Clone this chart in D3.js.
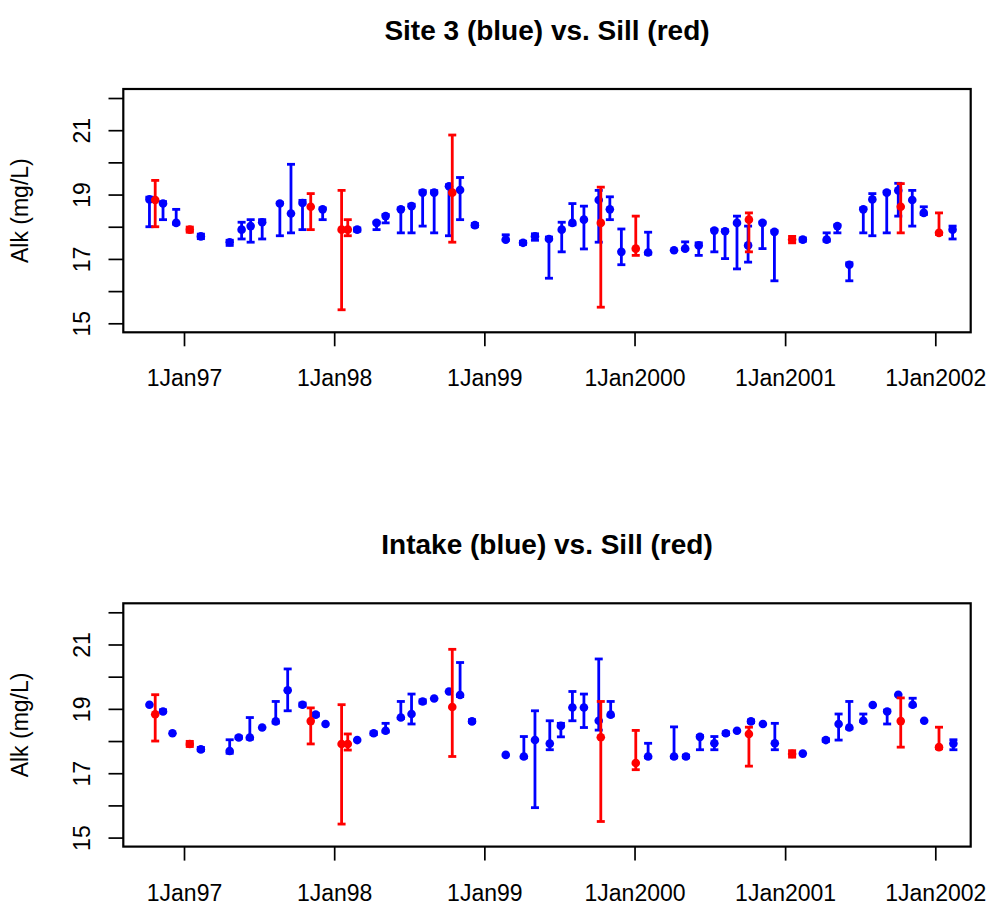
<!DOCTYPE html>
<html>
<head>
<meta charset="utf-8">
<script src="https://cdn.jsdelivr.net/npm/d3@7"></script>
<style>
  body { margin: 0; background: #fff; }
  text { font-family: "Liberation Sans", Arial, Helvetica, sans-serif; }
</style>
</head>
<body>
<script>
// Sill (red) - same in both panels
var sillDates = ["1996-10-23","1997-01-15","1997-11-05","1998-01-19","1998-02-03","1998-10-15",
                 "1999-10-11","2000-01-04","2000-10-05","2001-01-18","2001-10-09","2002-01-10"];
var sillMean = [18.83, 17.91, 18.62, 17.91, 17.91, 19.06, 18.12, 17.32, 18.22, 17.60, 18.62, 17.81];
var sillLo   = [18.00, 17.83, 17.91, 15.42, 17.72, 17.52, 15.50, 17.11, 17.22, 17.50, 17.81, 17.76];
var sillHi   = [19.44, 17.99, 19.03, 19.13, 18.22, 20.85, 19.23, 18.33, 18.43, 17.70, 19.34, 18.43];

// Site 3 (blue, top panel)
var site3Dates = ["1996-10-09","1996-11-11","1996-12-13","1997-02-11","1997-04-22","1997-05-21",
                  "1997-06-12","1997-07-10","1997-08-22","1997-09-18","1997-10-16","1997-12-04",
                  "1998-02-26","1998-04-14","1998-05-06","1998-06-12","1998-07-08","1998-08-04",
                  "1998-09-01","1998-10-07","1998-11-03","1998-12-09","1999-02-22","1999-04-05",
                  "1999-05-04","1999-06-07","1999-07-08","1999-08-03","1999-08-31","1999-10-06",
                  "1999-11-02","1999-11-30","2000-02-03","2000-04-06","2000-05-03","2000-06-05",
                  "2000-07-13","2000-08-08","2000-09-06","2000-10-03","2000-11-07","2000-12-06",
                  "2001-02-13","2001-04-12","2001-05-08","2001-06-06","2001-07-10","2001-08-01",
                  "2001-09-05","2001-10-03","2001-11-06","2001-12-04","2002-02-12"];
var site3Mean = [18.85, 18.72, 18.12, 17.70, 17.52, 17.91, 18.02, 18.14, 18.72, 18.41, 18.74, 18.54,
                 17.91, 18.12, 18.33, 18.54, 18.64, 19.06, 19.06, 19.26, 19.14, 18.05, 17.60, 17.50,
                 17.70, 17.62, 17.91, 18.12, 18.22, 18.83, 18.54, 17.22, 17.20, 17.27, 17.32, 17.42,
                 17.88, 17.86, 18.12, 17.42, 18.12, 17.84, 17.60, 17.60, 18.02, 16.82, 18.54, 18.85,
                 19.06, 19.13, 18.83, 18.43, 17.91];
var site3Lo   = [18.00, 18.22, 18.08, 17.63, 17.42, 17.62, 17.52, 17.62, 17.72, 17.81, 17.91, 18.22,
                 17.86, 17.91, 18.12, 17.81, 17.81, 18.02, 17.81, 17.72, 18.22, 18.00, 17.58, 17.45,
                 17.58, 16.40, 17.22, 18.06, 17.31, 17.52, 18.22, 16.82, 17.15, 17.27, 17.30, 17.11,
                 17.22, 17.01, 16.69, 16.90, 17.32, 16.32, 17.55, 17.55, 17.81, 16.32, 17.81, 17.72,
                 17.81, 18.33, 18.02, 18.38, 17.62];
var site3Hi   = [18.92, 18.78, 18.54, 17.77, 17.58, 18.14, 18.22, 18.22, 18.75, 19.94, 18.82, 18.58,
                 17.96, 18.15, 18.38, 18.58, 18.70, 19.12, 19.12, 19.30, 19.53, 18.10, 17.75, 17.55,
                 17.78, 17.68, 18.14, 18.72, 18.64, 19.13, 18.93, 17.93, 17.83, 17.27, 17.53, 17.50,
                 17.92, 17.90, 18.33, 18.02, 18.15, 17.88, 17.65, 17.81, 18.06, 16.88, 18.58, 19.03,
                 19.10, 19.35, 19.13, 18.62, 18.02];

// Intake (blue, bottom panel)
var intakeDates = ["1996-10-09","1996-11-11","1996-12-04","1997-02-11","1997-04-22","1997-05-14",
                   "1997-06-10","1997-07-10","1997-08-12","1997-09-10","1997-10-16","1997-11-17",
                   "1997-12-11","1998-02-26","1998-04-07","1998-05-06","1998-06-12","1998-07-08",
                   "1998-08-04","1998-09-01","1998-10-07","1998-11-03","1998-12-02","1999-02-22",
                   "1999-04-07","1999-05-04","1999-06-09","1999-07-06","1999-08-03","1999-08-31",
                   "1999-10-06","1999-11-04","2000-02-03","2000-04-06","2000-05-05","2000-06-08",
                   "2000-07-13","2000-08-10","2000-09-06","2000-10-10","2000-11-08","2000-12-07",
                   "2001-02-13","2001-04-10","2001-05-11","2001-06-06","2001-07-10","2001-08-02",
                   "2001-09-06","2001-10-03","2001-11-07","2001-12-05","2002-02-14"];
var intakeMean = [19.13, 18.92, 18.24, 17.74, 17.69, 18.11, 18.11, 18.42, 18.61, 19.58, 19.13, 18.82,
                  18.53, 18.03, 18.24, 18.32, 18.73, 18.84, 19.23, 19.32, 19.54, 19.43, 18.61, 17.57,
                  17.52, 18.03, 17.92, 18.47, 19.04, 19.04, 18.63, 18.82, 17.52, 17.52, 17.52, 18.13,
                  17.93, 18.24, 18.32, 18.61, 18.53, 17.93, 17.61, 18.03, 18.53, 18.42, 18.63, 19.12,
                  18.92, 19.44, 19.13, 18.63, 17.92];
var intakeLo   = [19.13, 18.90, 18.24, 17.70, 17.62, 18.08, 18.06, 18.42, 18.56, 18.94, 19.08, 18.78,
                  18.53, 18.03, 18.20, 18.28, 18.70, 18.53, 19.18, 19.32, 19.54, 19.38, 18.58, 17.57,
                  17.48, 15.93, 17.73, 18.13, 18.63, 18.42, 18.34, 18.78, 17.48, 17.48, 17.48, 17.73,
                  17.73, 18.20, 18.32, 18.57, 18.53, 17.73, 17.61, 17.99, 18.03, 18.38, 18.60, 19.12,
                  18.53, 19.44, 19.09, 18.63, 17.73];
var intakeHi   = [19.13, 18.97, 18.24, 17.80, 18.04, 18.15, 18.73, 18.42, 19.23, 20.24, 19.18, 18.86,
                  18.53, 18.03, 18.28, 18.55, 19.23, 19.46, 19.28, 19.32, 19.54, 20.44, 18.66, 17.57,
                  18.14, 18.94, 18.63, 18.55, 19.54, 19.46, 20.55, 19.23, 17.93, 18.44, 17.56, 18.17,
                  18.14, 18.28, 18.32, 18.65, 18.53, 18.55, 17.61, 18.07, 18.84, 19.23, 18.84, 19.12,
                  18.96, 19.44, 19.33, 18.63, 18.04];

var xTickDates = ["1997-01-01","1998-01-01","1999-01-01","2000-01-01","2001-01-01","2002-01-01"];
var xTickLabels = ["1Jan97","1Jan98","1Jan99","1Jan2000","1Jan2001","1Jan2002"];
var yTicks = [15, 16, 17, 18, 19, 20, 21, 22];
var yTickLabels = ["15", "", "17", "", "19", "", "21", ""];

var parse = d3.utcParse("%Y-%m-%d");

function series(dates, mean, lo, hi) {
  return dates.map(function(d, i) {
    return {date: parse(d), y: mean[i], lo: lo[i], hi: hi[i]};
  });
}

var sill = series(sillDates, sillMean, sillLo, sillHi);
var panels = [
  {title: "Site 3 (blue) vs. Sill (red)", blue: series(site3Dates, site3Mean, site3Lo, site3Hi), top: 89},
  {title: "Intake (blue) vs. Sill (red)", blue: series(intakeDates, intakeMean, intakeLo, intakeHi), top: 603.3}
];

var W = 993, H = 905;
var left = 123.3, right = 970.7, ph = 243.3;

var svg = d3.select("body")
  .append("svg")
  .attr("width", W)
  .attr("height", H);

var x = d3.scaleUtc()
  .domain([d3.utcHour.offset(parse("1997-01-01"), -3541), d3.utcHour.offset(parse("2002-01-01"), 2065)])
  .range([left, right]);

function drawCI(g, data, y, color) {
  var bars = data.filter(function(d) { return d.hi - d.lo > 0.001; });
  g.selectAll(null)
    .data(bars)
    .enter()
    .append("line")
      .attr("x1", function(d) { return x(d.date); })
      .attr("x2", function(d) { return x(d.date); })
      .attr("y1", function(d) { return y(d.lo); })
      .attr("y2", function(d) { return y(d.hi); })
      .style("stroke", color)
      .style("stroke-width", 2.8);
  ["lo", "hi"].forEach(function(k) {
    g.selectAll(null)
      .data(bars)
      .enter()
      .append("line")
        .attr("x1", function(d) { return x(d.date) - 4; })
        .attr("x2", function(d) { return x(d.date) + 4; })
        .attr("y1", function(d) { return y(d[k]); })
        .attr("y2", function(d) { return y(d[k]); })
        .style("stroke", color)
        .style("stroke-width", 2.8);
  });
  g.selectAll(null)
    .data(data)
    .enter()
    .append("circle")
      .attr("cx", function(d) { return x(d.date); })
      .attr("cy", function(d) { return y(d.y); })
      .attr("r", 4.3)
      .style("fill", color);
}

panels.forEach(function(p) {
  var top = p.top, bottom = top + ph;
  var y = d3.scaleLinear().domain([14.72, 22.28]).range([bottom, top]);

  svg.append("text")
    .attr("x", (left + right) / 2)
    .attr("y", top - 49)
    .attr("text-anchor", "middle")
    .style("font-size", "28px")
    .style("font-weight", "bold")
    .text(p.title);

  var xAxis = d3.axisBottom(x)
    .tickValues(xTickDates.map(parse))
    .tickFormat(function(d, i) { return xTickLabels[i]; })
    .tickSize(14)
    .tickSizeOuter(0);

  var gx = svg.append("g")
    .attr("transform", "translate(0," + bottom + ")")
    .call(xAxis);
  gx.select(".domain").remove();
  gx.selectAll("line").style("stroke", "#000").style("stroke-width", 1.7);
  gx.selectAll("text")
    .attr("y", 54.2)
    .attr("dy", null)
    .style("font-size", "23px")
    .style("fill", "#000");

  var yAxis = d3.axisLeft(y)
    .tickValues(yTicks)
    .tickFormat(function(d, i) { return yTickLabels[i]; })
    .tickSize(14.8)
    .tickSizeOuter(0);

  var gy = svg.append("g")
    .attr("transform", "translate(" + left + ",0)")
    .call(yAxis);
  gy.select(".domain").remove();
  gy.selectAll("line").style("stroke", "#000").style("stroke-width", 1.7);
  gy.selectAll("text")
    .attr("x", null)
    .attr("dy", null)
    .attr("transform", "translate(-33.8,0) rotate(-90)")
    .attr("text-anchor", "middle")
    .style("font-size", "23px")
    .style("fill", "#000");

  svg.append("text")
    .attr("transform", "translate(28.4," + ((top + bottom) / 2) + ") rotate(-90)")
    .attr("text-anchor", "middle")
    .style("font-size", "23px")
    .text("Alk (mg/L)");

  var g = svg.append("g");
  drawCI(g, p.blue, y, "blue");
  drawCI(g, sill, y, "red");

  svg.append("rect")
    .attr("x", left)
    .attr("y", top)
    .attr("width", right - left)
    .attr("height", ph)
    .style("fill", "none")
    .style("stroke", "#000")
    .style("stroke-width", 2.2);
});
</script>
</body>
</html>
